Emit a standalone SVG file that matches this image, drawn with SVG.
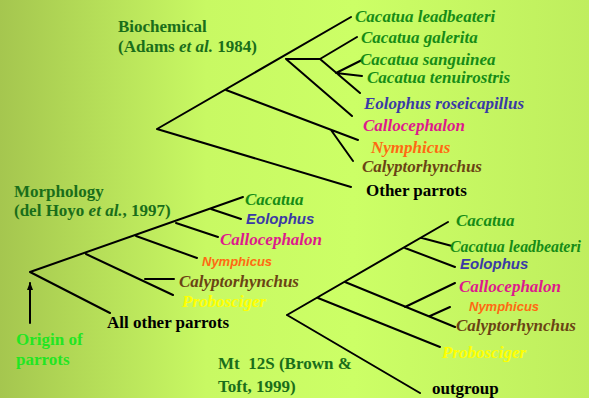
<svg xmlns="http://www.w3.org/2000/svg" width="589" height="398" viewBox="0 0 589 398">
<defs>
<linearGradient id="bg" x1="0" y1="0" x2="1" y2="0">
<stop offset="0" stop-color="#a5c64f"/>
<stop offset="0.35" stop-color="#c8f963"/>
<stop offset="0.6" stop-color="#ccff66"/>
<stop offset="1" stop-color="#bfee5e"/>
</linearGradient>
<marker id="ah" markerWidth="8" markerHeight="6" refX="7" refY="3" orient="auto" markerUnits="userSpaceOnUse" viewBox="0 0 8 6">
<path d="M0,0 L8,3 L0,6 Z" fill="#000"/>
</marker>
</defs>
<style>
.ln{stroke:#000;stroke-width:2;fill:none;stroke-linecap:round}
.sp{font-family:"Liberation Serif","Times New Roman",serif;font-weight:bold;font-style:italic;font-size:17px}
.ss{font-family:"Liberation Sans",Arial,sans-serif;font-weight:bold;font-style:italic}
.tt{font-family:"Liberation Serif","Times New Roman",serif;font-weight:bold;font-size:17px}
.g{fill:#168c16}.b{fill:#3a3aa6}.m{fill:#dd1a8c}.o{fill:#ff6a12}.br{fill:#6a4414}.y{fill:#ffff00}.k{fill:#000}.dg{fill:#1a6e1a}.og{fill:#22e622}
</style>
<rect width="589" height="398" fill="url(#bg)"/>
<g id="connectors">
<path class="ln" d="M157,129 L351,17 M157,129 L351,187 M226,90 L358,140 M331,130 L353,161 M286,59 L320,59 M286,59 L352,116 M320,59 L357,37 M320,59 L360,93 M336,73 L362,60 M336,73 L362,76"/>
<path class="ln" d="M30,272 L243,197 M30,272 L110,313 M211,209 L241,219 M176,223 L218,237 M136,236 L197,258 M86,254 L173,295 M145,279 L174,279"/>
<line class="ln" x1="30" y1="323" x2="30" y2="283" marker-end="url(#ah)"/>
<path class="ln" d="M287,315 L420,393 M287,315 L448,222 M318,298 L440,347 M345,282 L455,327 M405,307 L455,283 M430,316 L450,307 M405,248 L455,267 M422,238 L452,246"/>
</g>
<g id="title-biochemical"><text class="tt dg" x="118" y="32">Biochemical</text><text class="tt dg" x="118" y="52">(Adams <tspan font-style="italic">et al.</tspan> 1984)</text></g>
<g id="top-leaves">
<text class="sp g" x="355" y="22">Cacatua leadbeateri</text>
<text class="sp g" x="361" y="43">Cacatua galerita</text>
<text class="sp g" x="360" y="65">Cacatua sanguinea</text>
<text class="sp g" x="367" y="83">Cacatua tenuirostris</text>
<text class="sp b" x="364" y="109">Eolophus roseicapillus</text>
<text class="sp m" x="363" y="131">Callocephalon</text>
<text class="sp o" x="371" y="153">Nymphicus</text>
<text class="sp br" x="362" y="172">Calyptorhynchus</text>
<text class="tt k" x="366" y="196">Other parrots</text>
</g>
<g id="title-morphology"><text class="tt dg" x="14" y="197">Morphology</text><text class="tt dg" x="14" y="216">(del Hoyo <tspan font-style="italic">et al.</tspan>, 1997)</text></g>
<g id="mid-leaves">
<text class="sp g" x="245" y="205">Cacatua</text>
<text class="ss b" font-size="15" x="246" y="224">Eolophus</text>
<text class="sp m" x="220" y="245">Callocephalon</text>
<text class="ss o" font-size="13" x="202" y="266">Nymphicus</text>
<text class="sp br" x="179" y="287">Calyptorhynchus</text>
<text class="sp y" x="182" y="307">Probosciger</text>
<text class="tt k" x="107" y="328">All other parrots</text>
</g>
<g id="origin"><text class="tt og" x="16" y="345">Origin of</text><text class="tt og" x="16" y="365">parrots</text></g>
<g id="title-mt12s"><text class="tt dg" x="218" y="369" xml:space="preserve">Mt  12S (Brown &amp;</text><text class="tt dg" x="218" y="392">Toft, 1999)</text></g>
<g id="bottom-leaves">
<text class="sp g" x="456" y="226">Cacatua</text>
<text class="sp g" x="450" y="252" textLength="131" lengthAdjust="spacingAndGlyphs">Cacatua leadbeateri</text>
<text class="ss b" font-size="15" x="460" y="269">Eolophus</text>
<text class="sp m" x="459" y="292">Callocephalon</text>
<text class="ss o" font-size="13" x="469" y="311">Nymphicus</text>
<text class="sp br" x="456" y="331">Calyptorhynchus</text>
<text class="sp y" x="442" y="358">Probosciger</text>
<text class="tt k" x="432" y="394">outgroup</text>
</g>
</svg>
